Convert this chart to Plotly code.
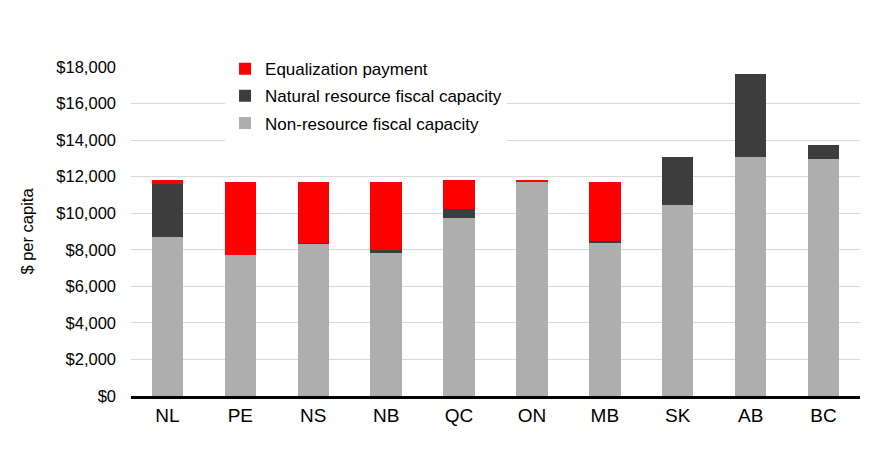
import plotly.graph_objects as go

provinces = ["NL", "PE", "NS", "NB", "QC", "ON", "MB", "SK", "AB", "BC"]
non_resource = [8680, 7710, 8350, 7810, 9740, 11730, 8410, 10460, 13090, 12970]
natural_resource = [2920, 0, 40, 160, 510, 0, 50, 2630, 4510, 780]
equalization = [220, 4020, 3340, 3760, 1570, 90, 3270, 0, 0, 0]
y_ticks = [0, 2000, 4000, 6000, 8000, 10000, 12000, 14000, 16000, 18000]
y_tick_labels = ["$0", "$2,000", "$4,000", "$6,000", "$8,000", "$10,000",
                 "$12,000", "$14,000", "$16,000", "$18,000"]

fig = go.Figure()
fig.add_trace(go.Bar(x=provinces, y=non_resource, name="Non-resource fiscal capacity",
                     legendgroup="g3", legendrank=3,
                     marker=dict(color="#AEAEAE", line=dict(width=0))))
fig.add_trace(go.Bar(x=provinces, y=natural_resource, name="Natural resource fiscal capacity",
                     legendgroup="g2", legendrank=2,
                     marker=dict(color="#3D3D3D", line=dict(width=0))))
fig.add_trace(go.Bar(x=provinces, y=equalization, name="Equalization payment",
                     legendgroup="g1", legendrank=1,
                     marker=dict(color="#FF0000", line=dict(width=0))))

fig.update_layout(
    barmode="stack",
    bargap=0.57,
    width=884, height=458,
    margin=dict(l=123, r=32, t=59, b=70),
    paper_bgcolor="white", plot_bgcolor="white",
    font=dict(family="Liberation Sans, Arial, sans-serif", color="#000000"),
    showlegend=True,
    legend=dict(
        x=0.129, y=1.048, xanchor="left", yanchor="top",
        traceorder="grouped",
        font=dict(size=17, color="#000000"),
        bgcolor="rgba(255,255,255,1)",
        itemsizing="constant",
        tracegroupgap=2,
    ),
    xaxis=dict(
        showline=True, linecolor="#000000", linewidth=3,
        tickfont=dict(size=19), ticks="", showgrid=False,
        zeroline=False,
    ),
    yaxis=dict(
        range=[0, 18000], tickvals=y_ticks, ticktext=y_tick_labels,
        tickfont=dict(size=16.5), showgrid=True, gridcolor="#D9D9D9", gridwidth=1,
        zeroline=False, showline=False, ticks="", ticklabelstandoff=14,
        title=dict(text="$ per capita", font=dict(size=16.5), standoff=18),
    ),
)

fig.write_html("out.html")
